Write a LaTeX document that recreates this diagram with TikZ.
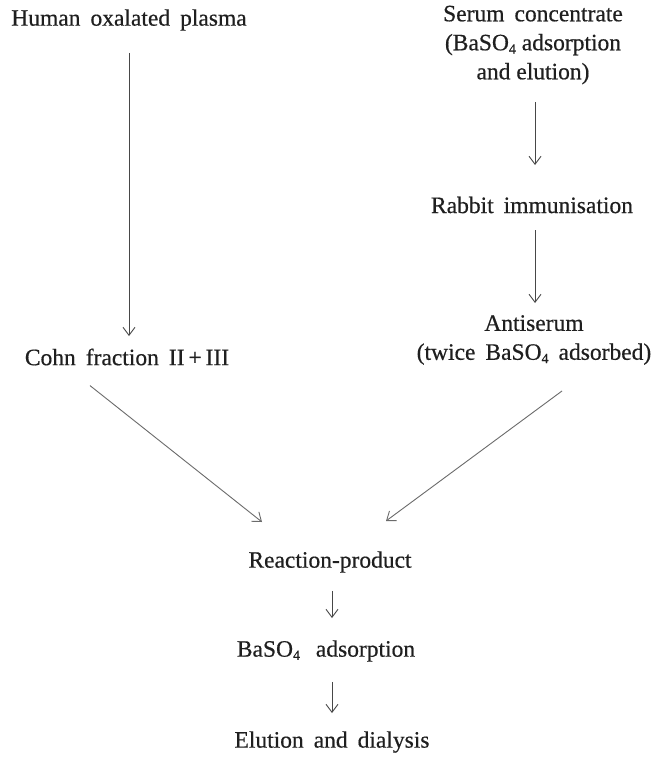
\documentclass[tikz,border=0pt]{standalone}
\usepackage{fontspec}
\setmainfont{Liberation Serif}
\newfontfamily\heavy{Liberation Serif}[FakeBold=0.5]
\usetikzlibrary{arrows.meta}
\newcommand{\subf}{\raisebox{-0.3ex}{\fontsize{14}{14}\selectfont 4}}
\newcommand{\wg}{\hspace{10pt}}
\begin{document}
\begin{tikzpicture}[x=1pt,y=-1pt,
  lbl/.style={inner sep=0pt,font=\heavy\fontsize{23.5}{29}\selectfont,text=black!88,align=center},
  arr/.style={draw=black!72,line width=0.9pt,-{Straight Barb[length=8pt,width=12pt,line width=0.9pt]}},
  darr/.style={arr,draw=black!58}]
\useasboundingbox[fill=white] (0,0) rectangle (654,758);
\node[lbl] (hop) at (129,20) {Human\wg oxalated\wg plasma};
\node[lbl] (serum) at (533,45) {Serum\wg concentrate\\(BaSO\subf\ adsorption\\and elution)};
\node[lbl] (rabbit) at (532,205) {Rabbit\wg immunisation};
\node[lbl] (cohn) at (127,357) {Cohn\wg fraction\wg II\,+\,III};
\node[lbl] (anti) at (534,340) {Antiserum\\(twice\wg BaSO\subf\wg adsorbed)};
\node[lbl] (react) at (330,562) {Reaction-product};
\node[lbl] (baso) at (326,651) {BaSO\subf\wg\ adsorption};
\node[lbl] (elut) at (332,742) {Elution\wg and\wg dialysis};
\draw[arr] (hop.south -| 129,0) ++(0,22) -- (129,336);
\draw[arr] (serum.south -| 535,0) ++(0,18) -- (535,165);
\draw[arr] (rabbit.south -| 535,0) ++(0,17) -- (535,303);
\draw[darr] (cohn.south -| 90,0) ++(0,20) -- (262,522);
\draw[darr] (anti.south -| 562,0) ++(0,26) -- (386,521);
\draw[arr] (react.south -| 332,0) ++(0,18) -- (332,618);
\draw[arr] (baso.south -| 332,0) ++(0,20) -- (332,713);
\end{tikzpicture}
\end{document}
